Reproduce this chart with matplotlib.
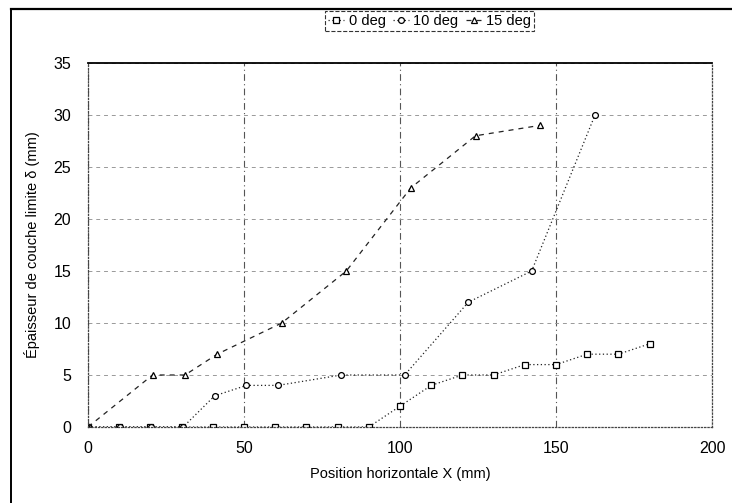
import matplotlib
matplotlib.use("Agg")
import matplotlib.pyplot as plt
from matplotlib.lines import Line2D

plt.rcParams['font.family'] = ['Liberation Sans', 'DejaVu Sans']

# Épaisseur de couche limite mesurée, par angle d'incidence
x_0deg = [0, 10, 20, 30, 40, 50, 60, 70, 80, 90, 100, 110, 120, 130, 140, 150, 160, 170, 180]
y_0deg = [0, 0, 0, 0, 0, 0, 0, 0, 0, 0, 2, 4, 5, 5, 6, 6, 7, 7, 8]

x_10deg = [0, 10.2, 20.3, 30.5, 40.6, 50.8, 60.9, 81.2, 101.5, 121.9, 142.2, 162.5]
y_10deg = [0, 0, 0, 0, 3, 4, 4, 5, 5, 12, 15, 30]

x_15deg = [0, 20.7, 31.1, 41.4, 62.1, 82.8, 103.5, 124.2, 144.9]
y_15deg = [0, 5, 5, 7, 10, 15, 23, 28, 29]

x_ticks = [0, 50, 100, 150, 200]
y_ticks = [0, 5, 10, 15, 20, 25, 30, 35]

fig = plt.figure(figsize=(7.32, 5.03), dpi=100)
ax = fig.add_axes([0.1202, 0.1511, 0.8525, 0.7237])

mk = dict(markersize=4.2, markerfacecolor='white', markeredgecolor='black',
          markeredgewidth=0.9, color='#222222', linewidth=0.9)
ax.plot(x_0deg, y_0deg, linestyle=(0, (1, 2)), marker='s', label='0 deg', **mk)
ax.plot(x_10deg, y_10deg, linestyle=(0, (1, 2)), marker='o', label='10 deg', **mk)
ax.plot(x_15deg, y_15deg, linestyle=(0, (4, 4)), marker='^', label='15 deg', **mk)

ax.set_xlim(0, 200)
ax.set_ylim(0, 35)
ax.set_xticks(x_ticks)
ax.set_yticks(y_ticks)
ax.tick_params(length=0, labelsize=11.5)
ax.tick_params(axis='y', pad=12)
ax.tick_params(axis='x', pad=10)

ax.grid(axis='x', color='#555555', linestyle=(0, (6, 3, 1, 3)), linewidth=0.8)
ax.grid(axis='y', color='#999999', linestyle=(0, (4, 4)), linewidth=0.7)

ax.spines['top'].set_linewidth(1.3)
for side in ['left', 'right', 'bottom']:
    ax.spines[side].set_linestyle(':')
    ax.spines[side].set_color('#444444')
    ax.spines[side].set_linewidth(0.9)

ax.set_xlabel('Position horizontale X (mm)', fontsize=10.5, labelpad=8)
ax.set_ylabel('Épaisseur de couche limite δ (mm)', fontsize=10.5, labelpad=10)

leg = fig.legend(loc='center', bbox_to_anchor=(0.587, 0.958), ncol=3, fontsize=10.5,
                 handlelength=1.1, handletextpad=0.3, columnspacing=0.5,
                 borderpad=0.2, borderaxespad=0, fancybox=False, framealpha=1)
leg.get_frame().set_edgecolor('#333333')
leg.get_frame().set_linestyle('--')
leg.get_frame().set_linewidth(0.8)

# cadre extérieur (haut et gauche)
fig.add_artist(Line2D([11 / 732, 1.0], [1 - 9 / 503, 1 - 9 / 503],
                      transform=fig.transFigure, color='black', linewidth=1.6))
fig.add_artist(Line2D([11 / 732, 11 / 732], [0, 1 - 9 / 503],
                      transform=fig.transFigure, color='black', linewidth=1.4))

fig.savefig('out.png', dpi=100)
